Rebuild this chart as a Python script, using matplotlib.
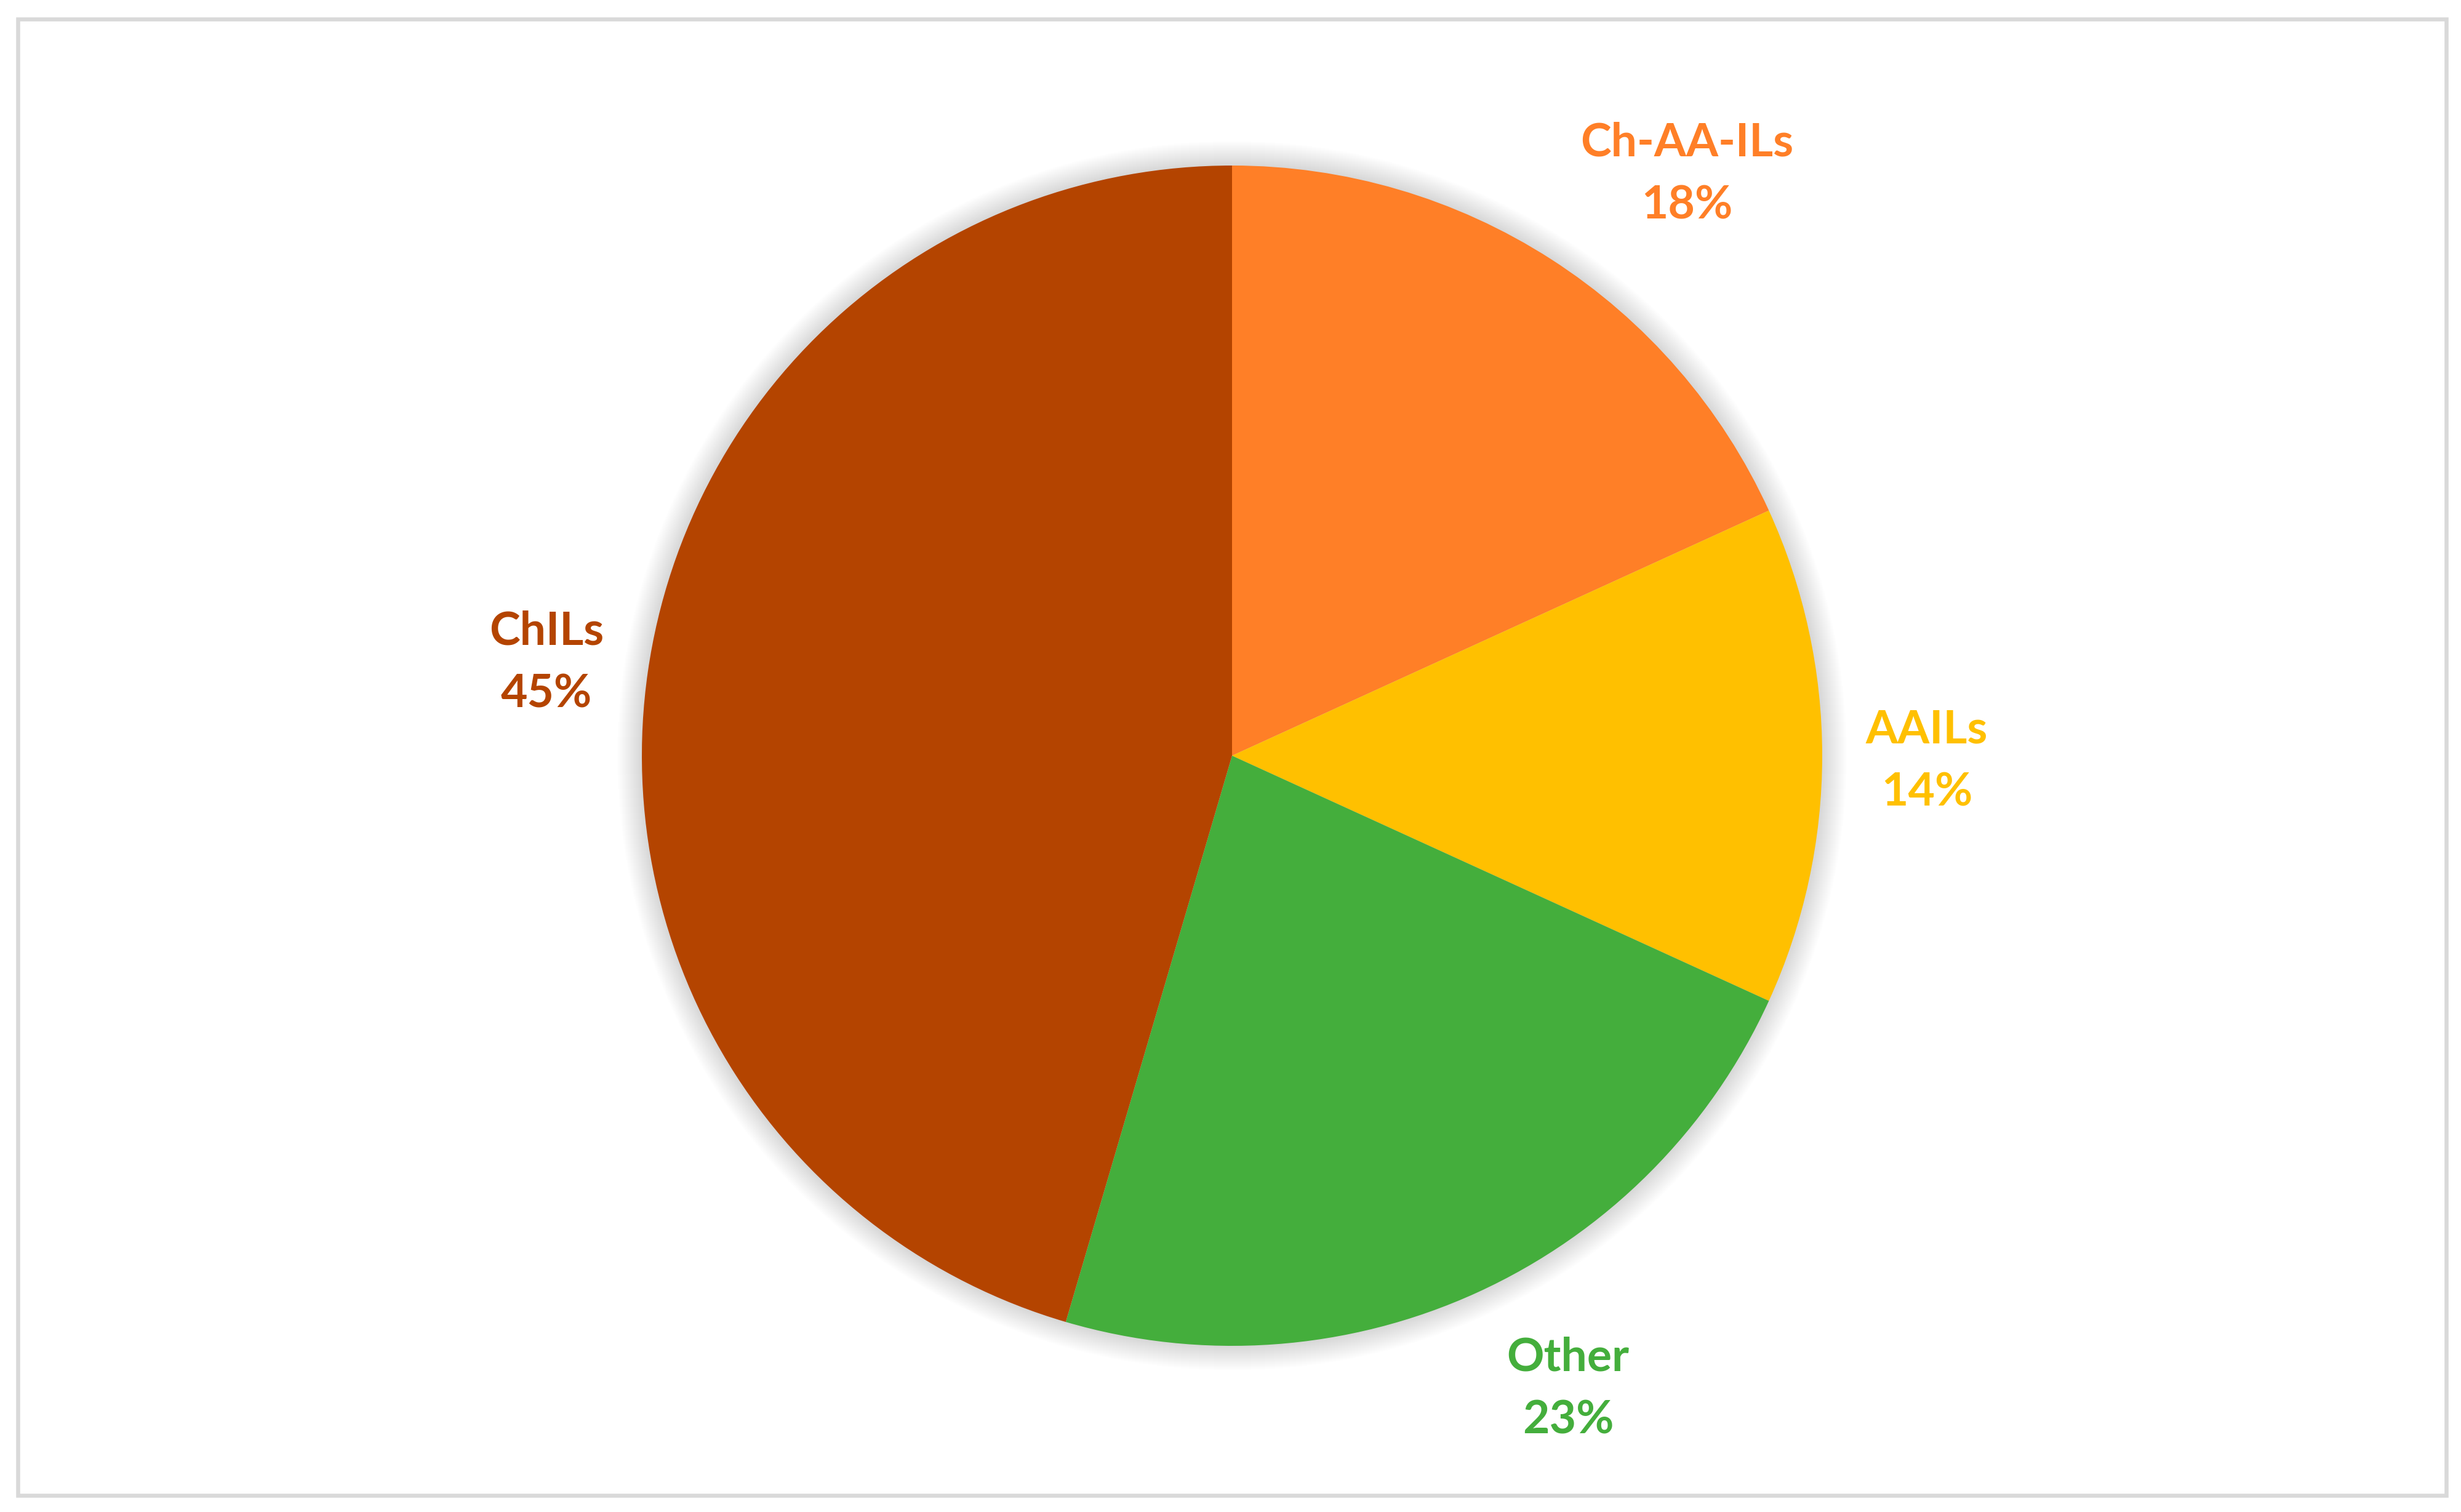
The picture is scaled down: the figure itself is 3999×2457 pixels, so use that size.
#!/usr/bin/env python3

import matplotlib
matplotlib.use('Agg')
import matplotlib.pyplot as plt
from matplotlib.patches import Circle, Rectangle

W, H = 3999, 2457
SET_DPI = 100

categories = ['Ch-AA-ILs', 'AAILs', 'Other', 'ChILs']
counts = [20, 15, 25, 50]
colours = ['#FF7F27', '#FFC000', '#44AE3C', '#B44400']

# label anchor (x centre, baseline of first line) in pixels from top-left
label_pos = [(2741, 254), (3131, 1207), (2548, 2228), (888, 1048)]
LINE_GAP = 102

CENTER = (2002, H - 1228)
RADIUS = 959

fig = plt.figure(figsize=(W / SET_DPI, H / SET_DPI), dpi=SET_DPI)
ax = fig.add_axes([0, 0, 1, 1])

# soft glow behind the pie
for k in range(40, 0, -1):
    ax.add_patch(Circle(CENTER, RADIUS + k, facecolor='black', edgecolor='none',
                        alpha=0.004, zorder=0))

ax.pie(counts, colors=colours, startangle=90, counterclock=False,
       center=CENTER, radius=RADIUS, frame=False,
       wedgeprops=dict(linewidth=0, zorder=1))

total = sum(counts)
for name, n, col, (x, y) in zip(categories, counts, colours, label_pos):
    pct = 100 * n / total
    ax.text(x, H - y, name, ha='center', va='baseline', color=col,
            fontsize=54, fontweight='bold', family='Lato', zorder=3)
    ax.text(x, H - y - LINE_GAP, f'{pct:.0f}%', ha='center', va='baseline', color=col,
            fontsize=54, fontweight='bold', family='Lato', zorder=3)

# chart area border
ax.add_patch(Rectangle((28.5, H - 2430), 3946, 2399.5, fill=False,
                       edgecolor='#D9D9D9', linewidth=4.7, zorder=4))

ax.set_xlim(0, W)
ax.set_ylim(0, H)
ax.set_aspect('equal')
ax.axis('off')

fig.savefig('out.png', dpi=SET_DPI, facecolor='white')
plt.close('all')
